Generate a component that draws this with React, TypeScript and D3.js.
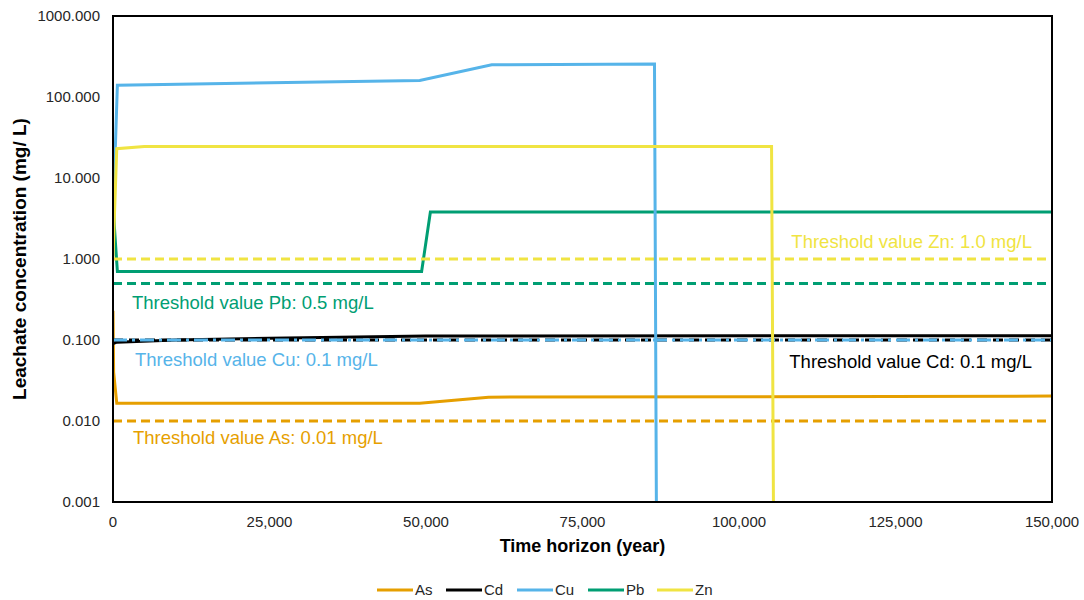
import React from "react";
import * as d3 from "d3";

// Leachate concentration (mg/L) over time (years) for each metal
const years_As = [0, 100, 600, 49000, 60000, 150000];
const conc_As = [0.23, 0.04, 0.0166, 0.0166, 0.0197, 0.0203];

const years_Cd = [0, 600, 10000, 25000, 50000, 150000];
const conc_Cd = [0.09, 0.094, 0.1, 0.105, 0.112, 0.113];

const years_Cu = [0, 250, 700, 49000, 60500, 86500, 86800];
const conc_Cu = [1.1, 12, 140, 160, 250, 256, 0.001];

const years_Pb = [0, 250, 700, 49300, 50700, 150000];
const conc_Pb = [6.5, 2.3, 0.7, 0.7, 3.8, 3.8];

const years_Zn = [0, 150, 600, 5000, 105200, 105500];
const conc_Zn = [1.0, 2.3, 23, 24.5, 24.5, 0.001];

const metals = ["As", "Cd", "Cu", "Pb", "Zn"];
const colors: Record<string, string> = {
  As: "#E69F00",
  Cd: "#000000",
  Cu: "#56B4E9",
  Pb: "#009E73",
  Zn: "#F0E442",
};

// Regulatory thresholds (mg/L)
const thresholdMetals = ["Zn", "Pb", "Cd", "Cu", "As"];
const thresholdValues = [1.0, 0.5, 0.1, 0.1, 0.01];
const thresholdLabels = [
  "Threshold value Zn: 1.0 mg/L",
  "Threshold value Pb: 0.5 mg/L",
  "Threshold value Cd: 0.1 mg/L",
  "Threshold value Cu: 0.1 mg/L",
  "Threshold value As: 0.01 mg/L",
];

const yTicks = [0.001, 0.01, 0.1, 1, 10, 100, 1000];
const xTicks = [0, 25000, 50000, 75000, 100000, 125000, 150000];

const series: Record<string, { t: number[]; c: number[] }> = {
  As: { t: years_As, c: conc_As },
  Cd: { t: years_Cd, c: conc_Cd },
  Cu: { t: years_Cu, c: conc_Cu },
  Pb: { t: years_Pb, c: conc_Pb },
  Zn: { t: years_Zn, c: conc_Zn },
};

const W = 1084;
const H = 600;
const m = { left: 113, right: 1052, top: 16, bottom: 502 };
const font = "Liberation Sans, Arial, sans-serif";

export default function App() {
  const x = d3.scaleLinear().domain([0, 150000]).range([m.left, m.right]);
  const y = d3.scaleLog().domain([0.001, 1000]).range([m.bottom, m.top]);
  const line = d3
    .line<[number, number]>()
    .x((d) => x(d[0]))
    .y((d) => y(d[1]));

  const path = (k: string) =>
    line(series[k].t.map((t, i) => [t, series[k].c[i]] as [number, number])) || "";

  // label placement per threshold: [x anchor, y offset, anchor]
  const labelPos: Record<string, [number, number, string]> = {
    Zn: [1032, -11, "end"],
    Pb: [132, 26, "start"],
    Cd: [1032, 28, "end"],
    Cu: [135, 26, "start"],
    As: [133, 23, "start"],
  };

  const dashes: Record<string, string> = {
    Zn: "9,5",
    Pb: "9,5",
    Cd: "10,6",
    Cu: "14,5,3,5",
    As: "9,5",
  };

  const thresholdEls = thresholdMetals.map((k, i) => (
    <line
      key={"th" + k}
      x1={m.left}
      x2={m.right}
      y1={y(thresholdValues[i])}
      y2={y(thresholdValues[i])}
      stroke={colors[k]}
      strokeWidth={3}
      strokeDasharray={dashes[k]}
    />
  ));

  const lineEl = (k: string) => (
    <path
      key={"l" + k}
      d={path(k)}
      fill="none"
      stroke={colors[k]}
      strokeWidth={3}
      strokeLinejoin="miter"
    />
  );

  const legendX = [377, 446, 517, 588, 657];

  return (
    <svg
      width={W}
      height={H}
      style={{ position: "absolute", left: 0, top: 0, background: "#fff" }}
      fontFamily={font}
    >
      <defs>
        <clipPath id="plotClip">
          <rect x={m.left} y={m.top} width={m.right - m.left} height={m.bottom - m.top} />
        </clipPath>
      </defs>

      <g clipPath="url(#plotClip)">
        {lineEl("As")}
        {lineEl("Cd")}
        {lineEl("Pb")}
        {thresholdEls}
        {lineEl("Cu")}
        {lineEl("Zn")}
      </g>

      {/* plot frame */}
      <rect
        x={m.left}
        y={m.top}
        width={m.right - m.left}
        height={m.bottom - m.top}
        fill="none"
        stroke="#000"
        strokeWidth={2}
      />

      {/* threshold labels */}
      {thresholdMetals.map((k, i) => {
        const [lx, dy, anchor] = labelPos[k];
        return (
          <text
            key={"tl" + k}
            x={lx}
            y={y(thresholdValues[i]) + dy}
            fill={colors[k]}
            fontSize={18.5}
            textAnchor={anchor as any}
          >
            {thresholdLabels[i]}
          </text>
        );
      })}

      {/* y axis labels */}
      {yTicks.map((v) => (
        <text
          key={"yt" + v}
          x={100}
          y={y(v) + 5}
          fontSize={15}
          textAnchor="end"
          fill="#262626"
        >
          {v.toFixed(3)}
        </text>
      ))}

      {/* x axis labels */}
      {xTicks.map((v) => (
        <text
          key={"xt" + v}
          x={x(v)}
          y={527}
          fontSize={15}
          textAnchor="middle"
          fill="#262626"
        >
          {d3.format(",")(v)}
        </text>
      ))}

      <text
        x={(m.left + m.right) / 2}
        y={552}
        fontSize={18}
        fontWeight="bold"
        textAnchor="middle"
      >
        Time horizon (year)
      </text>
      <text
        transform={`translate(26,${(m.top + m.bottom) / 2}) rotate(-90)`}
        fontSize={19}
        fontWeight="bold"
        textAnchor="middle"
      >
        Leachate concentration (mg/ L)
      </text>

      {/* legend */}
      {metals.map((k, i) => (
        <g key={"lg" + k}>
          <line
            x1={legendX[i]}
            x2={legendX[i] + 36}
            y1={590}
            y2={590}
            stroke={colors[k]}
            strokeWidth={3}
          />
          <text x={legendX[i] + 38} y={595} fontSize={15} fill="#262626">
            {k}
          </text>
        </g>
      ))}
    </svg>
  );
}
